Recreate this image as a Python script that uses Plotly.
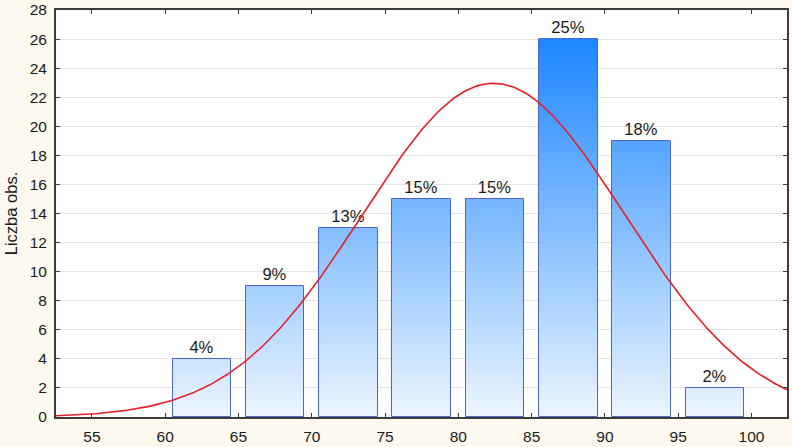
import numpy as np
import plotly.graph_objects as go

# ---- data ----
bin_centers = [62.5, 67.5, 72.5, 77.5, 82.5, 87.5, 92.5, 97.5]
counts = [4, 9, 13, 15, 15, 26, 19, 2]
pct_labels = ["4%", "9%", "13%", "15%", "15%", "25%", "18%", "2%"]
x_ticks = [55, 60, 65, 70, 75, 80, 85, 90, 95, 100]
y_ticks = list(range(0, 29, 2))

# fitted normal curve parameters (as shown on the chart)
fit_mean = 82.4
fit_sd = 8.95
fit_n = sum(counts)
bin_width = 5.0

x_range = [52.55, 102.42]
y_range = [0, 28]

# ---- gradient colours ----
c_low = np.array([236, 245, 255])
c_high = np.array([28, 134, 255])
gmax = max(counts)

def col(v):
    t = min(max(v / gmax, 0), 1)
    c = c_low + (c_high - c_low) * t
    return "rgb(%d,%d,%d)" % tuple(c.round().astype(int))

dy = 0.2
seg_x, seg_base, seg_h, seg_c = [], [], [], []
for xc, h in zip(bin_centers, counts):
    k = 0
    while k * dy < h - 1e-9:
        b = k * dy
        top = min(h, b + dy)
        seg_x.append(xc)
        seg_base.append(b)
        seg_h.append(min(top - b + 0.03, h - b))
        seg_c.append(col((b + top) / 2))
        k += 1

fig = go.Figure()
fig.add_trace(go.Bar(
    x=seg_x, y=seg_h, base=seg_base, width=4.0,
    marker=dict(color=seg_c, line=dict(width=0)),
    hoverinfo="skip", showlegend=False,
))
fig.add_trace(go.Bar(
    x=bin_centers, y=counts, width=4.0,
    marker=dict(color="rgba(0,0,0,0)", line=dict(color="#4A66C8", width=1)),
    text=pct_labels, textposition="outside", cliponaxis=False,
    textfont=dict(family="Arial, Liberation Sans", size=16.5, color="#1a1a1a"),
    showlegend=False,
))

xs = np.linspace(x_range[0], x_range[1], 300)
ys = fit_n * bin_width / (fit_sd * np.sqrt(2 * np.pi)) * np.exp(-0.5 * ((xs - fit_mean) / fit_sd) ** 2)
fig.add_trace(go.Scatter(
    x=xs, y=ys, mode="lines",
    line=dict(color="#E3202C", width=1.6),
    showlegend=False, hoverinfo="skip",
))

fig.update_layout(
    width=792, height=447,
    margin=dict(l=56, r=5, t=10, b=30),
    paper_bgcolor="#FDF9EE",
    plot_bgcolor="#FFFFFF",
    barmode="overlay",
    bargap=0,
    font=dict(family="Arial, Liberation Sans", size=15.5, color="#1a1a1a"),
    uniformtext=dict(mode=False),
)
fig.update_xaxes(
    range=x_range, tickmode="array", tickvals=x_ticks,
    showgrid=False, zeroline=False, automargin=False,
    showline=True, linecolor="#3C3C3C", linewidth=2, mirror="ticks",
    ticks="inside", ticklen=4, tickcolor="#3C3C3C",
    tickfont=dict(size=15.5), ticklabelstandoff=4,
)
fig.update_yaxes(
    range=y_range, tickmode="array", tickvals=y_ticks,
    showgrid=True, gridcolor="#E4E4E4", gridwidth=1, zeroline=False,
    automargin=False,
    showline=True, linecolor="#3C3C3C", linewidth=2, mirror="ticks",
    ticks="inside", ticklen=4, tickcolor="#3C3C3C",
    tickfont=dict(size=15.5), ticklabelstandoff=4,
    title=dict(text="Liczba obs.", font=dict(size=16.5), standoff=8),
)

fig.write_html("out.html")
